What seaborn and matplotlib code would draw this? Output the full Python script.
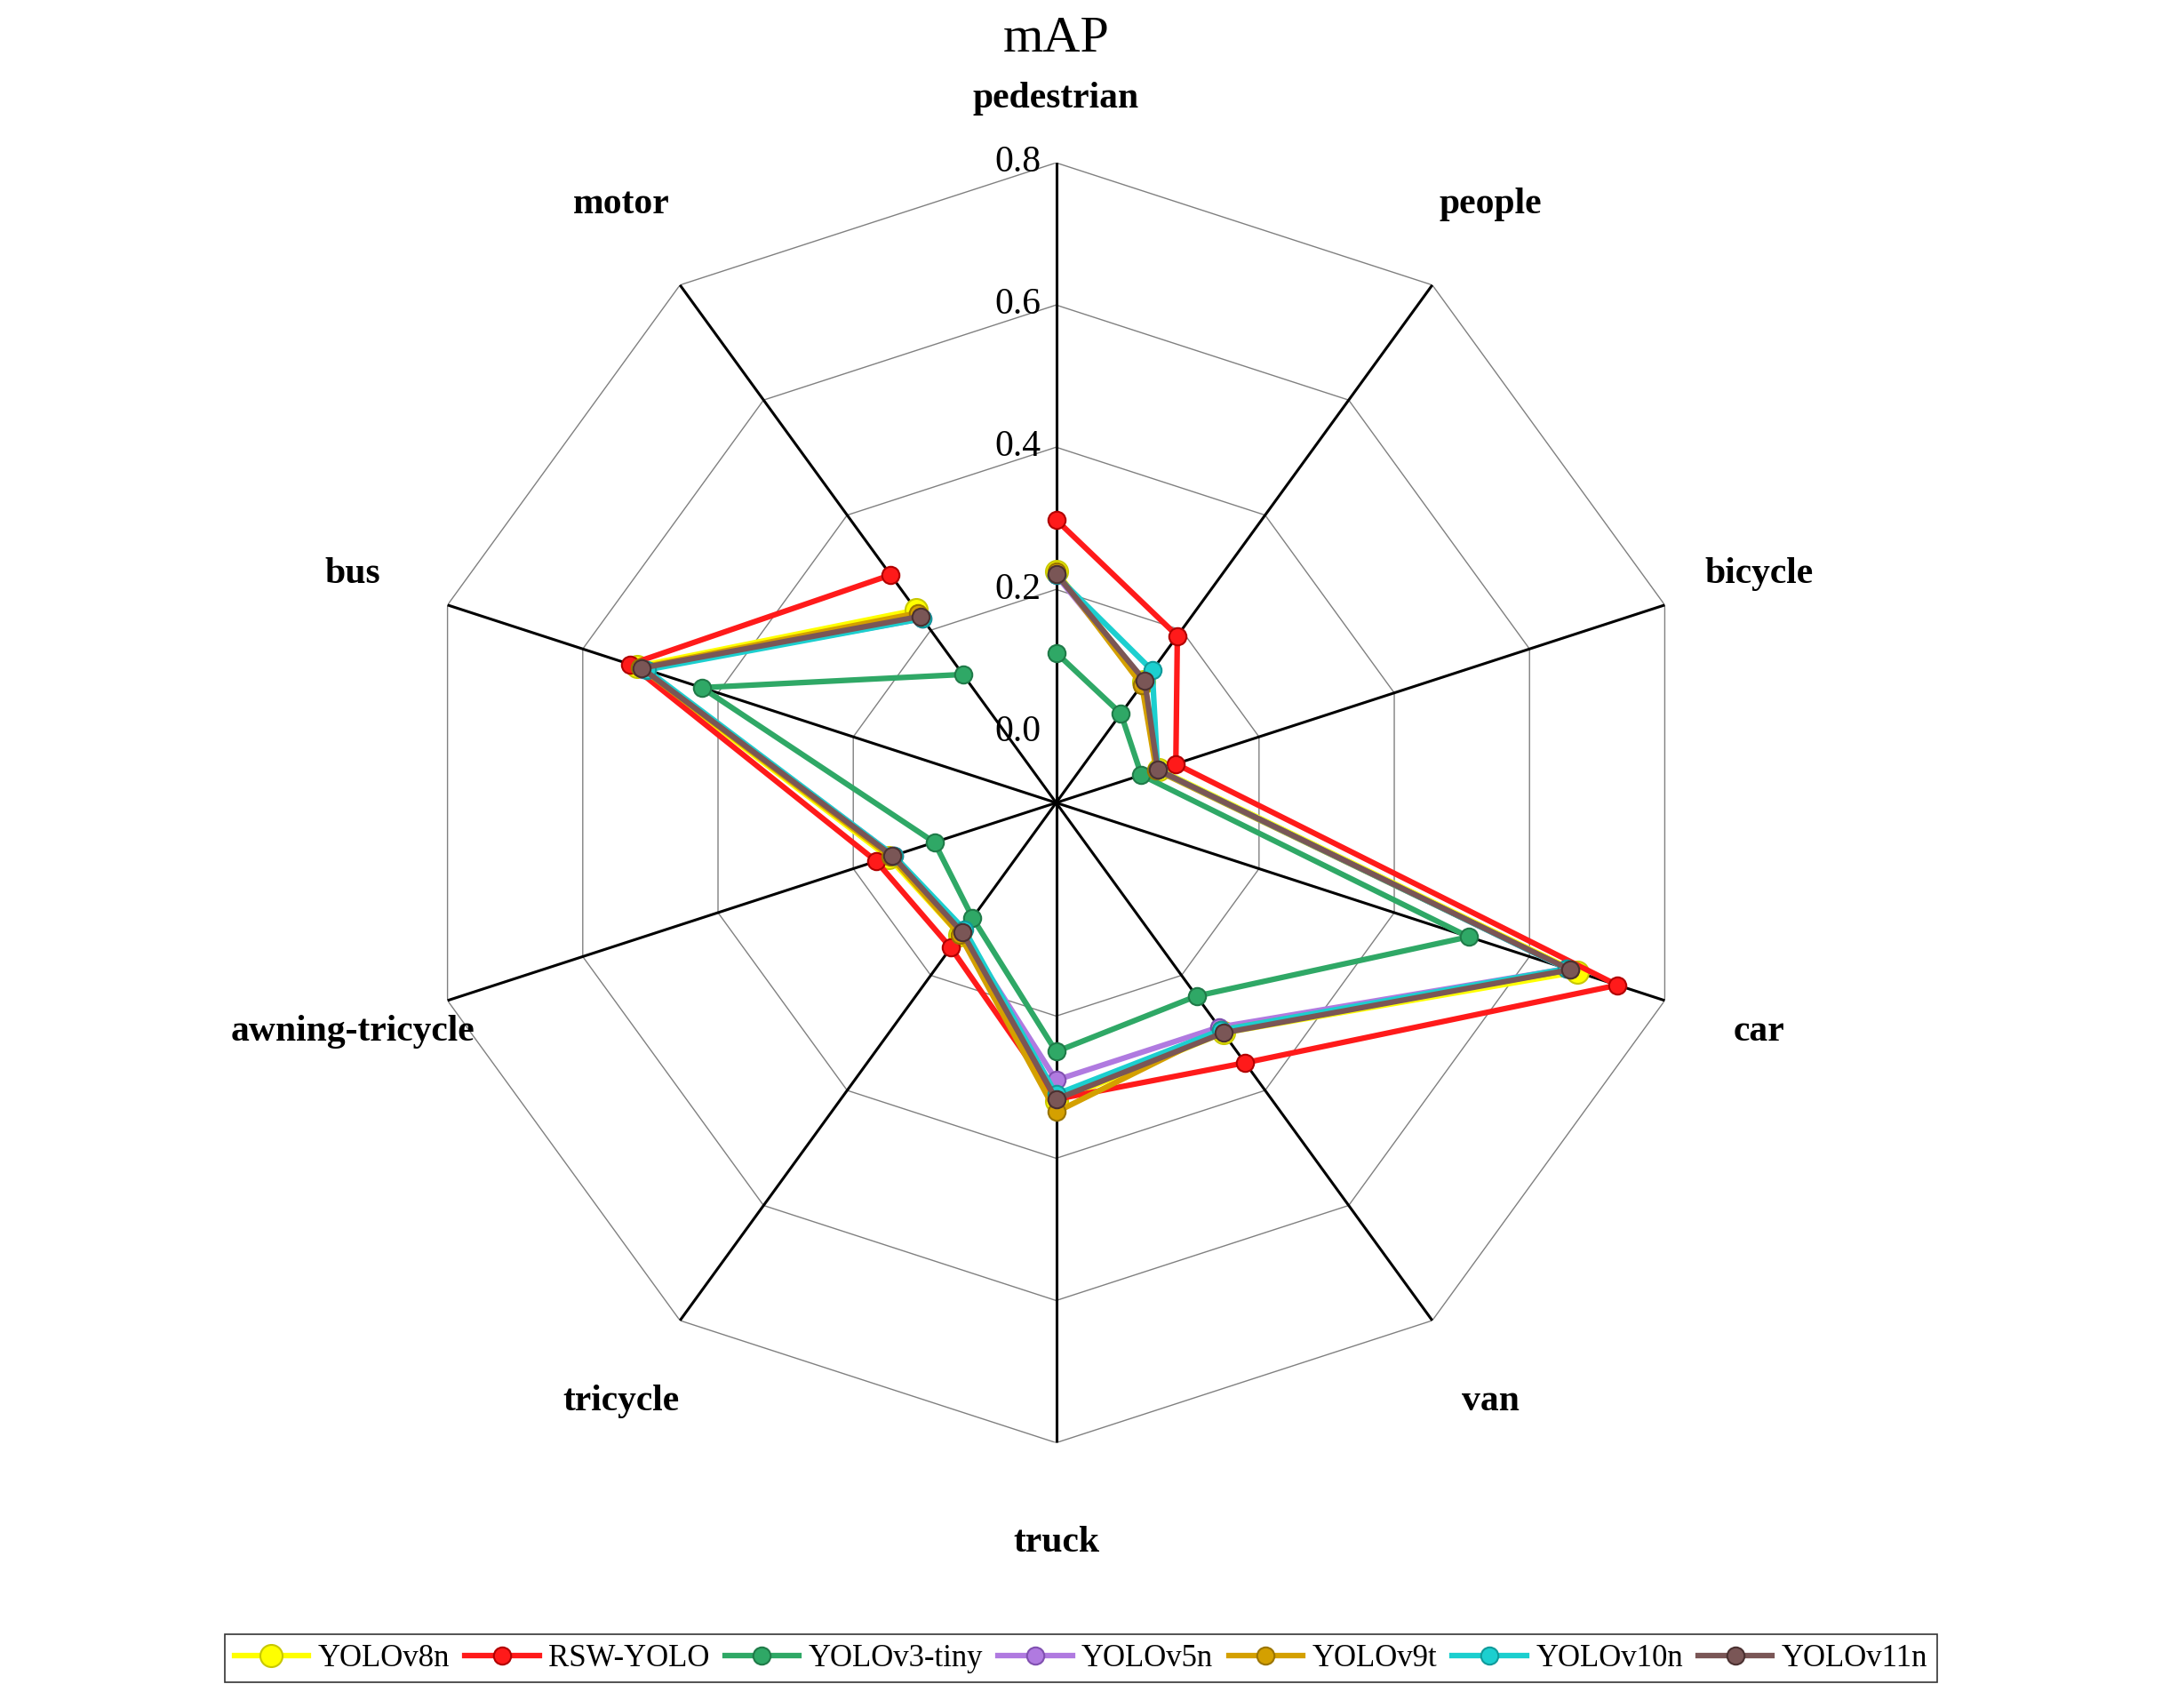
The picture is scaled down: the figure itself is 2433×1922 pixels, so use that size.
import numpy as np
import pandas as pd
import matplotlib
matplotlib.use("Agg")
import matplotlib.pyplot as plt
import seaborn as sns
from matplotlib.lines import Line2D

categories = ["pedestrian", "people", "bicycle", "car", "van", "truck",
              "tricycle", "awning-tricycle", "bus", "motor"]
models = ["YOLOv8n", "RSW-YOLO", "YOLOv3-tiny", "YOLOv5n", "YOLOv9t", "YOLOv10n", "YOLOv11n"]
yolov8n   = [0.225, 0.110, 0.052, 0.670, 0.300, 0.320, 0.130, 0.148, 0.520, 0.235]
rsw_yolo  = [0.298, 0.190, 0.077, 0.730, 0.352, 0.317, 0.152, 0.166, 0.530, 0.296]
yolov3t   = [0.111, 0.055, 0.026, 0.510, 0.236, 0.250, 0.100, 0.080, 0.424, 0.123]
yolov5n   = [0.220, 0.110, 0.050, 0.655, 0.290, 0.290, 0.125, 0.140, 0.510, 0.220]
yolov9t   = [0.225, 0.105, 0.048, 0.660, 0.295, 0.335, 0.130, 0.145, 0.515, 0.230]
yolov10n  = [0.220, 0.130, 0.050, 0.655, 0.295, 0.310, 0.120, 0.140, 0.505, 0.220]
yolov11n  = [0.222, 0.112, 0.050, 0.660, 0.300, 0.317, 0.125, 0.142, 0.513, 0.224]
series = [yolov8n, rsw_yolo, yolov3t, yolov5n, yolov9t, yolov10n, yolov11n]
ticks = [0.0, 0.2, 0.4, 0.6, 0.8]
tick_labels = ["0.0", "0.2", "0.4", "0.6", "0.8"]

colors = ["#ffff00", "#ff1a1a", "#2fa866", "#b07ae0", "#d4a000", "#1ccfcf", "#7a5656"]
edges = ["#c8c800", "#b00000", "#1f7a48", "#8050b0", "#9a7400", "#109a9a", "#4a3030"]
msizes = [18, 14, 14, 14, 14, 14, 14]

plt.rcParams["font.family"] = "Liberation Serif"
fig = plt.figure(figsize=(24.33, 19.22), dpi=100)
ax = fig.add_axes([0.4885 - 0.296, 0.530 - 0.375, 0.592, 0.75], projection="polar")
ax.set_theta_zero_location("N")
ax.set_theta_direction(-1)
ax.set_ylim(-0.1, 0.8)
ax.grid(False)
ax.spines["polar"].set_visible(False)
ax.set_xticks([]); ax.set_yticks([])

n = len(categories)
theta = np.arange(n) * 2 * np.pi / n
tc = np.append(theta, theta[0])
for t in ticks[1:]:
    ax.plot(tc, [t] * (n + 1), color="#808080", lw=1.0, zorder=1)
for th in theta:
    ax.plot([th, th], [-0.1, 0.8], color="black", lw=2.2, zorder=1)

for name, vals, c, e, ms in zip(models, series, colors, edges, msizes):
    df = pd.DataFrame({"theta": tc, "value": list(vals) + [vals[0]]})
    sns.lineplot(data=df, x="theta", y="value", sort=False, ax=ax, color=c, lw=4.5,
                 marker="o", markersize=ms, markeredgecolor=e, markeredgewidth=1.5,
                 legend=False, zorder=3)
ax.set_xlabel(""); ax.set_ylabel("")

for t, lab in zip(ticks, tick_labels):
    ax.annotate(lab, (0, t), xytext=(-31, 0), textcoords="offset points",
                ha="center", va="center", fontsize=30, zorder=2)
for th, cat in zip(theta, categories):
    r = 0.89 if cat == "pedestrian" else 0.94
    ax.text(th, r, cat, ha="center", va="center", fontsize=30, fontweight="bold")

fig.text(0.4885, 0.977, "mAP", ha="center", va="center", fontsize=42)

handles = [Line2D([], [], color=c, lw=4.5, marker="o", markersize=ms,
                  markeredgecolor=e, markeredgewidth=1.5)
           for c, e, ms in zip(colors, edges, msizes)]
leg = fig.legend(handles, models, loc="center", bbox_to_anchor=(0.5, 0.029), ncol=7,
                 fontsize=25, frameon=True, fancybox=False, handlelength=2.4,
                 columnspacing=0.5, handletextpad=0.3, borderpad=0.3)
leg.get_frame().set_edgecolor("black")
leg.get_frame().set_linewidth(1.2)

fig.savefig("out.png", dpi=100)
